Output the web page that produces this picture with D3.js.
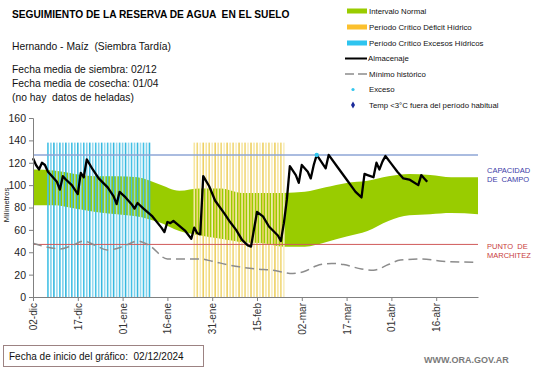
<!DOCTYPE html>
<html><head><meta charset="utf-8">
<script src="https://cdn.jsdelivr.net/npm/d3@7"></script>
<style>html,body{margin:0;padding:0;background:#fff;}svg{display:block;}</style>
</head><body>
<svg id="chart" width="541" height="368"></svg>
<script>
// ---------------- DATA ----------------
const startDate = "2024-12-02";
const endDate = "2025-04-30";
const tickDays = [0, 15, 30, 45, 60, 75, 90, 105, 120, 135];
const tickLabels = ["02-dic","17-dic","01-ene","16-ene","31-ene","15-feb","02-mar","17-mar","01-abr","16-abr"];
const yTicks = [0, 20, 40, 60, 80, 100, 120, 140, 160];

// Intervalo normal (band)
const bandDays  = [0, 7, 14, 21, 28, 35, 42, 49, 56, 63, 70, 77, 84, 91, 98, 105, 112, 119, 126, 133, 140, 149];
const bandUpper = [114, 113, 110, 108, 108, 107, 101, 95, 97, 97, 93, 93, 93, 94, 98, 102, 104, 108, 110, 109, 107, 107];
const bandLower = [82, 82, 79, 76, 74, 72, 67, 59, 55, 52, 49, 48, 45, 45, 49, 54, 59, 68, 73, 74, 75, 74];

// Mínimo histórico
const minDays   = [0, 4, 9, 13, 17, 21, 25, 30, 35, 39, 45, 50, 56, 60, 65, 69, 75, 80, 87, 91, 95, 100, 104, 110, 114, 119, 123, 130, 137, 149];
const minValues = [48, 45, 43, 46, 50, 46, 42, 45, 50, 46, 34, 34, 34, 32, 29, 27, 25, 24, 21, 23, 28, 30, 29, 25, 24, 29, 33, 34, 32, 31];

// Almacenaje
const almDays   = [0, 1, 2, 3, 4, 5, 6, 8, 9, 10, 11, 13, 15, 16, 17, 18, 20, 22, 25, 27, 28, 29, 31, 33, 34, 35, 37, 40, 43, 44, 45, 46, 47, 51, 53, 54, 55, 56, 57, 59, 61, 64, 66, 68, 70, 72, 73, 75, 77, 79, 82, 83, 84, 85, 86, 88, 89, 90, 92, 93, 94, 95, 97, 98, 99, 102, 105, 108, 110, 111, 112, 113, 114, 115, 116, 117, 118, 120, 122, 124, 126, 129, 130, 131, 132];
const almValues = [124, 118, 114, 120, 118, 112, 109, 103, 96, 108, 105, 100, 92, 111, 107, 123, 114, 106, 98, 90, 83, 94, 89, 83, 79, 84, 79, 72, 62, 58, 67, 66, 68, 59, 52, 62, 57, 56, 108, 99, 86, 75, 67, 60, 51, 46, 45, 76, 72, 63, 55, 50, 66, 87, 117, 109, 102, 118, 112, 106, 118, 127, 119, 115, 127, 116, 105, 94, 89, 110, 109, 108, 107, 120, 114, 121, 126, 119, 112, 106, 105, 100, 109, 106, 103];

// Exceso points
const excesoDays = [95];
const excesoValues = [127];

// Critical periods (daily bars)
const excesosPeriod = [5, 39];
const deficitPeriod = [54, 84];
const periodBarValue = 138;

const capacidadCampo = 127;
const puntoMarchitez = 47;

// ---------------- CHART ----------------
const svg = d3.select("#chart");
const FONT = "Arial, 'Liberation Sans', sans-serif";
const t0 = new Date(startDate + "T00:00:00Z");
const toDate = d => d3.utcDay.offset(t0, d);

const x = d3.scaleUtc().domain([t0, new Date(endDate + "T00:00:00Z")]).range([33, 478]);
const y = d3.scaleLinear().domain([0, 160]).range([297, 118]);

svg.append("rect").attr("width", 541).attr("height", 368).attr("fill", "#fff");

// green band
const band = bandDays.map((d, i) => ({d, u: bandUpper[i], l: bandLower[i]}));
svg.append("path").datum(band)
  .attr("fill", "#99cc00")
  .attr("d", d3.area().curve(d3.curveMonotoneX)
    .x(p => x(toDate(p.d))).y0(p => y(p.l)).y1(p => y(p.u)));

// period bars
function bars(period, colors) {
  const days = d3.range(period[0], period[1] + 1);
  svg.append("g").selectAll("rect").data(days).join("rect")
    .attr("x", d => x(toDate(d)) - 0.8)
    .attr("width", 1.6)
    .attr("y", y(periodBarValue))
    .attr("height", y(0) - y(periodBarValue))
    .attr("fill", (d, i) => colors[i % colors.length]);
}
bars(excesosPeriod, ["#45c1e5", "#7fd2ec", "#36b8df", "#96daf0"]);
bars(deficitPeriod, ["#f6e6a2", "#f1d878", "#f8edbf", "#eed062"]);

// reference lines
svg.append("line").attr("x1", x.range()[0]).attr("x2", x.range()[1])
  .attr("y1", y(capacidadCampo)).attr("y2", y(capacidadCampo))
  .attr("stroke", "#8ea6d6").attr("stroke-width", 1.5);
svg.append("line").attr("x1", x.range()[0]).attr("x2", x.range()[1])
  .attr("y1", y(puntoMarchitez)).attr("y2", y(puntoMarchitez))
  .attr("stroke", "#d05a5a").attr("stroke-width", 1);

// minimum historical dashed
svg.append("path").datum(minDays.map((d, i) => [d, minValues[i]]))
  .attr("fill", "none").attr("stroke", "#8c8c8c").attr("stroke-width", 1.5)
  .attr("stroke-dasharray", "9,5")
  .attr("d", d3.line().curve(d3.curveMonotoneX).x(p => x(toDate(p[0]))).y(p => y(p[1])));

// almacenaje
svg.append("path").datum(almDays.map((d, i) => [d, almValues[i]]))
  .attr("fill", "none").attr("stroke", "#000").attr("stroke-width", 2.3)
  .attr("stroke-linejoin", "round")
  .attr("d", d3.line().x(p => x(toDate(p[0]))).y(p => y(p[1])));

// exceso dots
svg.append("g").selectAll("circle").data(excesoDays).join("circle")
  .attr("cx", d => x(toDate(d))).attr("cy", (d, i) => y(excesoValues[i]))
  .attr("r", 2.2).attr("fill", "#33c6ee");

// axes
const yAxis = svg.append("g").attr("transform", "translate(33,0)")
  .call(d3.axisLeft(y).tickValues(yTicks).tickSize(4).tickPadding(3));
yAxis.select(".domain").attr("stroke", "#808080");
yAxis.selectAll(".tick line").attr("stroke", "#808080");
yAxis.selectAll("text").attr("font-family", FONT).attr("font-size", 10.5).attr("fill", "#222");

const xAxis = svg.append("g").attr("transform", "translate(0,297)")
  .call(d3.axisBottom(x).tickValues(tickDays.map(toDate)).tickFormat((d, i) => tickLabels[i]).tickSize(4).tickSizeOuter(0));
xAxis.select(".domain").attr("stroke", "#808080");
xAxis.selectAll(".tick line").attr("stroke", "#808080");
xAxis.selectAll("text").attr("font-family", FONT).attr("font-size", 10).attr("fill", "#333")
  .attr("transform", "rotate(-90)").attr("text-anchor", "end")
  .attr("x", -6).attr("y", 0).attr("dy", "0.35em");

svg.append("text").attr("transform", "translate(9,205) rotate(-90)")
  .attr("text-anchor", "middle").attr("font-family", FONT).attr("font-size", 7.5)
  .attr("fill", "#222").text("Milímetros");

// titles and info
svg.append("text").attr("x", 12).attr("y", 18).attr("font-family", FONT)
  .attr("font-size", 10.2).attr("font-weight", "bold").attr("fill", "#000")
  .text("SEGUIMIENTO DE LA RESERVA DE AGUA  EN EL SUELO").style("white-space", "pre");
const info = [["Hernando - Maíz  (Siembra Tardía)", 50], ["Fecha media de siembra: 02/12", 73],
              ["Fecha media de cosecha: 01/04", 87], ["(no hay  datos de heladas)", 101]];
info.forEach(([t, yy]) => svg.append("text").attr("x", 12).attr("y", yy)
  .attr("font-family", FONT).attr("font-size", 10.3).attr("fill", "#111").style("white-space", "pre").text(t));

// legend
const lg = svg.append("g").attr("font-family", FONT).attr("font-size", 7.8).attr("fill", "#111");
const rows = [11, 27, 43, 58.5, 74, 89.5, 105];
lg.append("rect").attr("x", 347).attr("y", rows[0] - 2.5).attr("width", 20).attr("height", 5).attr("fill", "#99cc00");
lg.append("rect").attr("x", 347).attr("y", rows[1] - 2.5).attr("width", 20).attr("height", 5).attr("fill", "#fbc02d");
lg.append("rect").attr("x", 347).attr("y", rows[2] - 2.5).attr("width", 20).attr("height", 5).attr("fill", "#2ec4ef");
lg.append("line").attr("x1", 345).attr("x2", 367).attr("y1", rows[3]).attr("y2", rows[3]).attr("stroke", "#000").attr("stroke-width", 2);
lg.append("line").attr("x1", 345).attr("x2", 367).attr("y1", rows[4]).attr("y2", rows[4]).attr("stroke", "#8c8c8c").attr("stroke-width", 1.5).attr("stroke-dasharray", "9,4");
lg.append("circle").attr("cx", 353).attr("cy", rows[5]).attr("r", 1.6).attr("fill", "#33c6ee");
lg.append("path").attr("d", d3.symbol(d3.symbolDiamond, 14)()).attr("transform", `translate(353,${rows[6]})`).attr("fill", "#1a2a9a");
const lgText = ["Intervalo Normal", "Período Crítico Déficit Hídrico", "Período Crítico Excesos Hídricos", "Almacenaje", "Mínimo histórico", "Exceso", "Temp <3°C fuera del período habitual"];
const lgX = [369, 369, 369, 368, 369, 369, 369];
lgText.forEach((t, i) => lg.append("text").attr("x", lgX[i]).attr("y", rows[i]).attr("dy", "0.35em").text(t));

// right labels
const rl = svg.append("g").attr("font-family", FONT).attr("font-size", 7.5);
rl.append("text").attr("x", 487).attr("y", 173).attr("fill", "#3c3ca8").text("CAPACIDAD");
rl.append("text").attr("x", 487).attr("y", 182).attr("fill", "#3c3ca8").style("white-space", "pre").text("DE  CAMPO");
rl.append("text").attr("x", 487).attr("y", 249).attr("fill", "#c83c3c").style("white-space", "pre").text("PUNTO  DE");
rl.append("text").attr("x", 487).attr("y", 258).attr("fill", "#c83c3c").text("MARCHITEZ");

// footer
svg.append("rect").attr("x", 3.5).attr("y", 345.5).attr("width", 200).attr("height", 21)
  .attr("fill", "#fff").attr("stroke", "#9c8282").attr("stroke-width", 1);
svg.append("text").attr("x", 9).attr("y", 360).attr("font-family", FONT).attr("font-size", 10)
  .attr("fill", "#111").style("white-space", "pre").text("Fecha de inicio del gráfico:  02/12/2024");
svg.append("text").attr("x", 424).attr("y", 363).attr("font-family", FONT).attr("font-size", 9)
  .attr("font-weight", "bold").attr("fill", "#7a7a7a").text("WWW.ORA.GOV.AR");
</script>
</body></html>
